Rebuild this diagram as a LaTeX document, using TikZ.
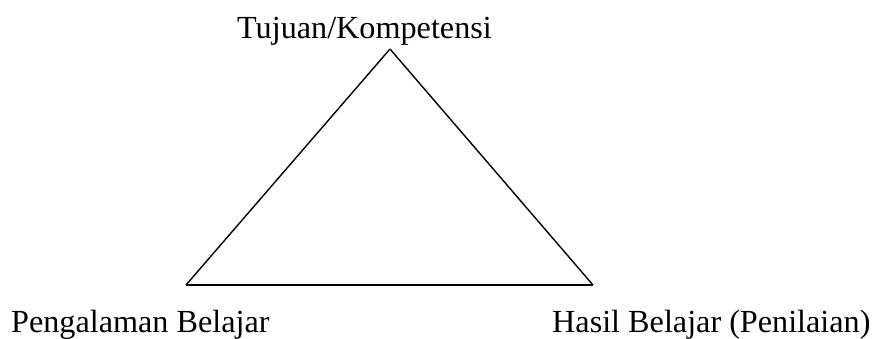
\documentclass[tikz,border=0pt]{standalone}
\usepackage{fontspec}
\setmainfont{Liberation Serif}
\usepackage{tikz}

\tikzset{
  label text/.style={inner sep=0pt, font=\fontsize{32.2}{38}\selectfont},
  edge line/.style={line width=1.4pt}
}

\begin{document}
\begin{tikzpicture}[x=1pt, y=-1pt]
  \useasboundingbox (0, 0) rectangle (873, 338);
  \coordinate (top) at (390, 49);
  \coordinate (left) at (186, 285);
  \coordinate (right) at (593, 285);
  \node[label text, anchor=base west] (goal) at (237, 38) {Tujuan/Kompetensi};
  \node[label text, anchor=base west] (exp) at (11, 332) {Pengalaman Belajar};
  \node[label text, anchor=base west] (result) at (552, 332) {Hasil Belajar (Penilaian)};
  \draw[edge line] (top) -- (left);
  \draw[edge line] (left) -- (right);
  \draw[edge line] (right) -- (top);
\end{tikzpicture}
\end{document}
